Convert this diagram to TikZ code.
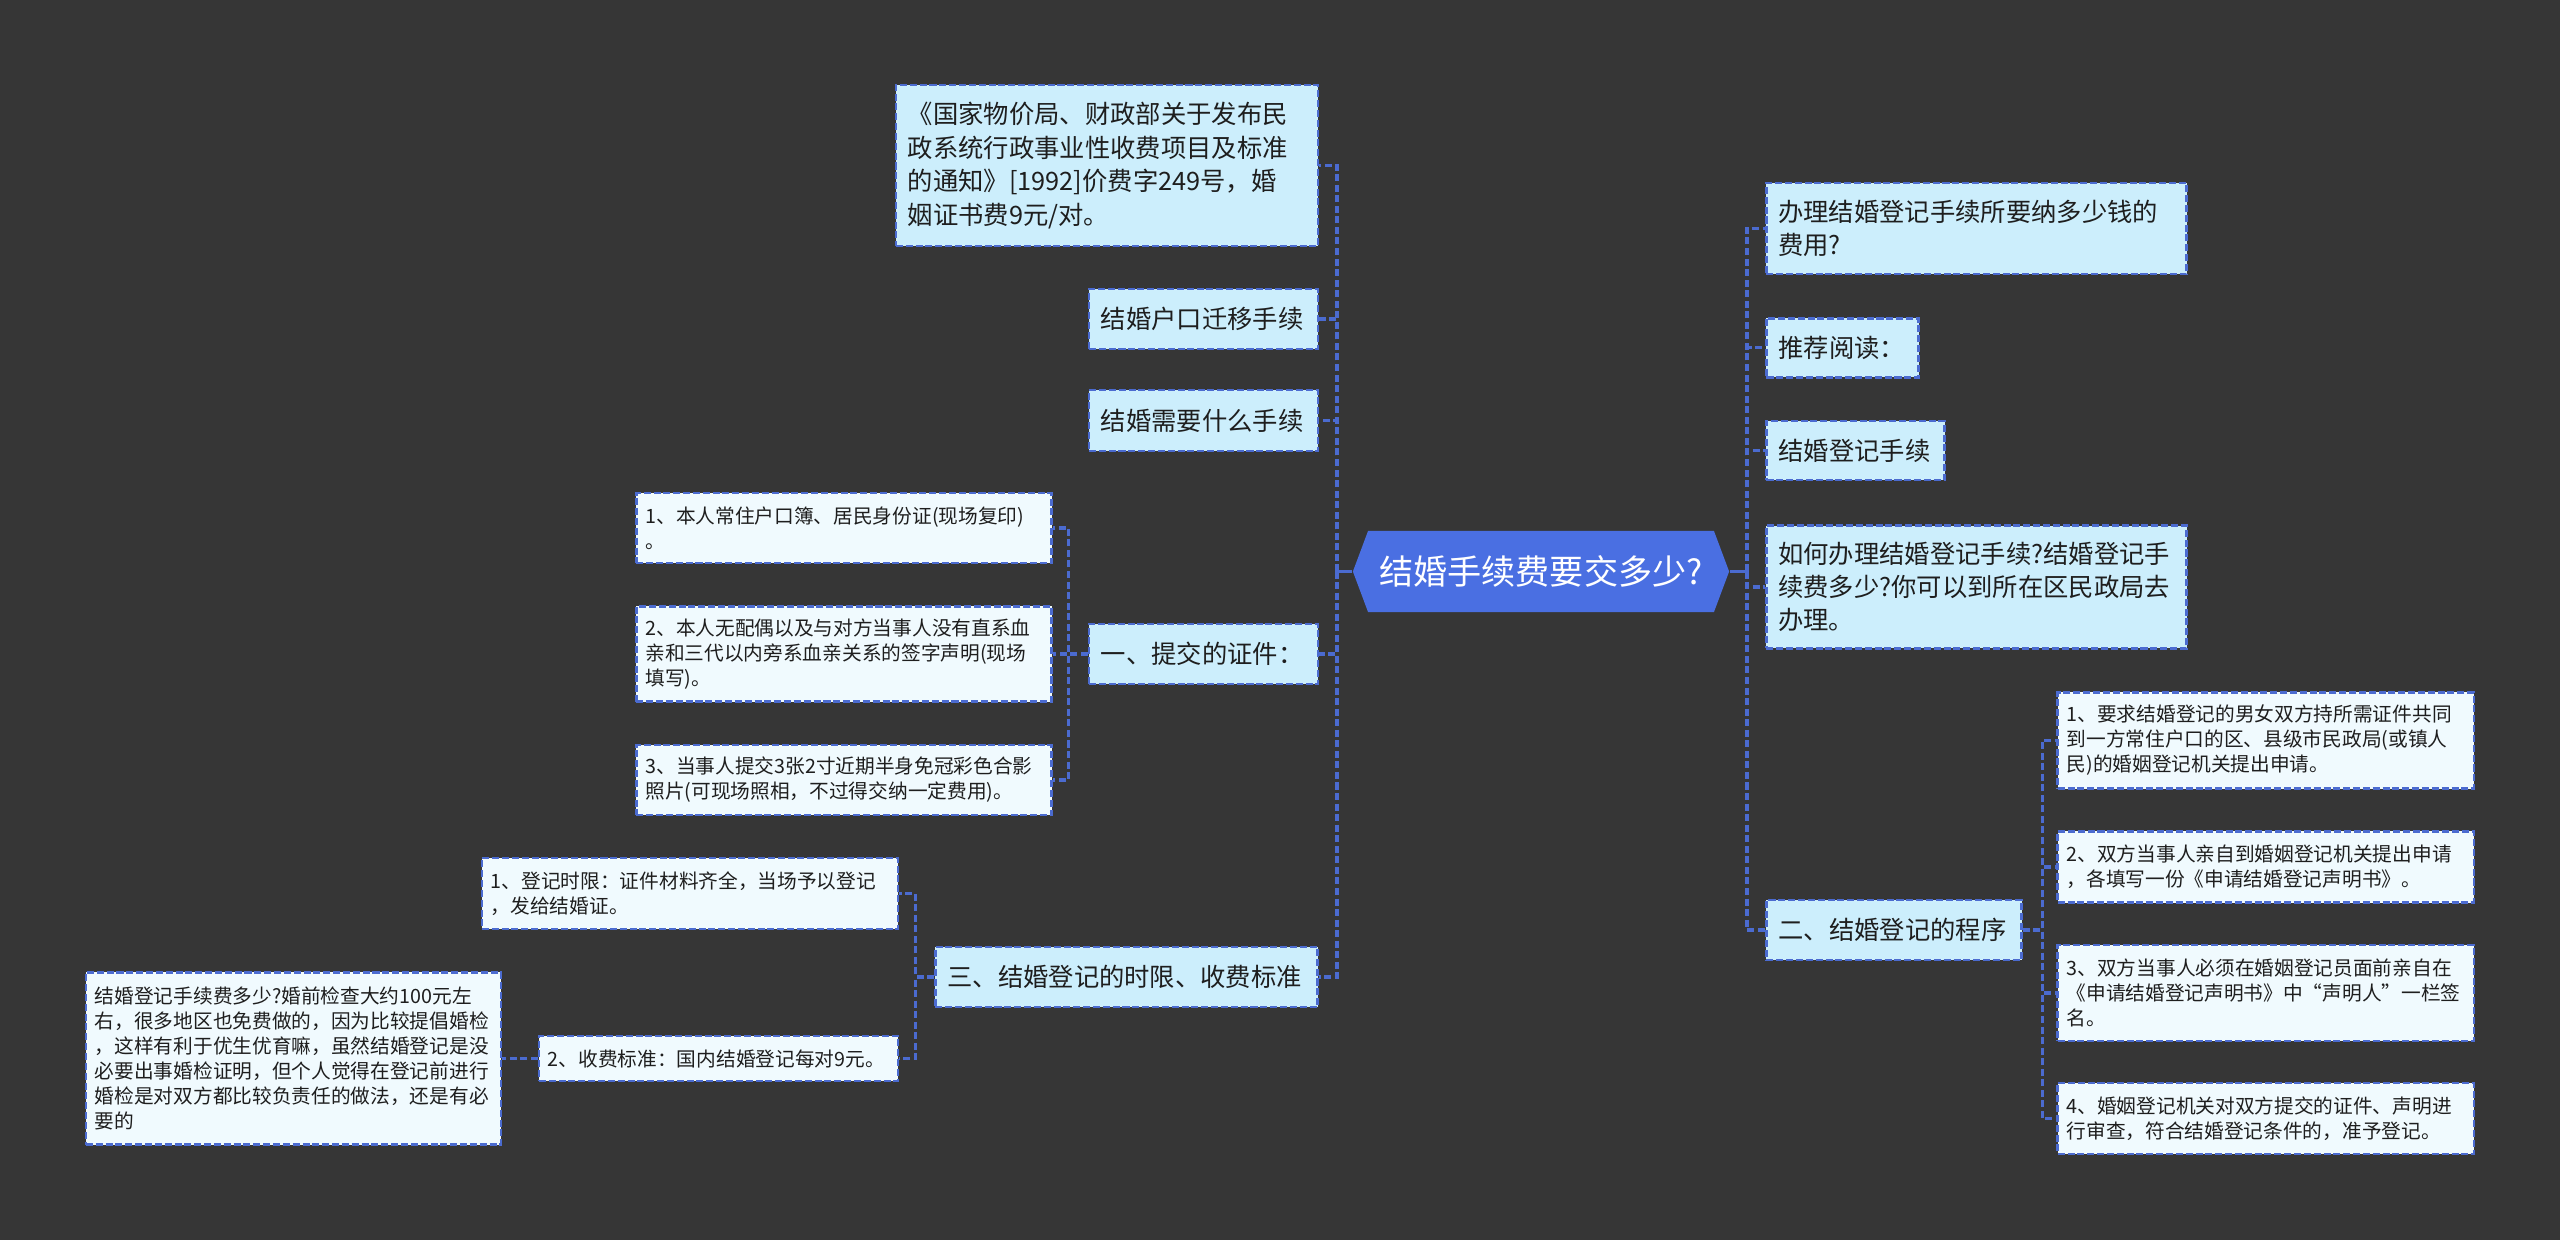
\documentclass[tikz,border=0pt]{standalone}
\usepackage{fontspec}
\setmainfont{Noto Sans CJK SC}
\usetikzlibrary{shapes.symbols}
\definecolor{canvas}{HTML}{363636}
\definecolor{ink}{HTML}{1E1E1E}
\definecolor{rootfill}{HTML}{4A6FE2}
\definecolor{onefill}{HTML}{CCEEFC}
\definecolor{twofill}{HTML}{F0FAFE}
\definecolor{edge}{HTML}{4B6BD0}
\newcommand{\rootsize}{\fontsize{9.7}{11.5}\selectfont}
\newcommand{\onesize}{\fontsize{7.2}{9.5}\selectfont}
\newcommand{\twosize}{\fontsize{5.6}{7.1}\selectfont}
\tikzset{
 every node/.append style={text=ink},
 box/.style={draw=edge,line width=.7pt,dash pattern=on 2pt off .8pt,align=left},
 lvone/.style={box,fill=onefill,font=\onesize,inner xsep=.12cm,inner ysep=0pt},
 lvtwo/.style={box,fill=twofill,font=\twosize,inner xsep=.09cm,inner ysep=0pt},
 root/.style={signal,signal to=west and east,signal pointer angle=139,fill=rootfill,text=white,font=\rootsize,inner xsep=0pt,minimum width=3.76cm,minimum height=.81cm},
 link/.style={draw=edge,line width=.95pt,dash pattern=on 2pt off 1pt},
 stem/.style={draw=edge,line width=1pt},
}

\begin{document}
\begin{tikzpicture}[x=.01cm,y=-.01cm]

\useasboundingbox (0,0) rectangle (2560,1240);
\fill[canvas] (0,0) rectangle (2560,1240);
\node[root] (root) at (1541,571.5) {结婚手续费要交多少?};
\coordinate (lt) at (1337,571.5);
\coordinate (rt) at (1747,571.5);
\node[lvone,text width=3.98cm,minimum height=1.61cm] (l1) at (1107,165.5) {《国家物价局、财政部关于发布民\\政系统行政事业性收费项目及标准\\的通知》[1992]价费字249号，婚\\姻证书费9元/对。};
\node[lvone,text width=2.05cm,minimum height=.60cm] (l2) at (1203.5,319) {结婚户口迁移手续};
\node[lvone,text width=2.05cm,minimum height=.61cm] (l3) at (1203.5,420.5) {结婚需要什么手续};
\node[lvone,text width=2.05cm,minimum height=.60cm] (l4) at (1203.5,654) {一、提交的证件：};
\node[lvone,text width=3.58cm,minimum height=.60cm] (l5) at (1126.5,977) {三、结婚登记的时限、收费标准};
\node[lvtwo,text width=3.97cm,minimum height=.70cm] (c41) at (844,528) {1、本人常住户口簿、居民身份证(现场复印)\\。};
\node[lvtwo,text width=3.97cm,minimum height=.95cm] (c42) at (844,654) {2、本人无配偶以及与对方当事人没有直系血\\亲和三代以内旁系血亲关系的签字声明(现场\\填写)。};
\node[lvtwo,text width=3.97cm,minimum height=.70cm] (c43) at (844,780) {3、当事人提交3张2寸近期半身免冠彩色合影\\照片(可现场照相，不过得交纳一定费用)。};
\node[lvtwo,text width=3.98cm,minimum height=.71cm] (c51) at (690,893.5) {1、登记时限：证件材料齐全，当场予以登记\\，发给结婚证。};
\node[lvtwo,text width=3.41cm,minimum height=.45cm] (c52) at (718.5,1058.5) {2、收费标准：国内结婚登记每对9元。};
\node[lvtwo,text width=3.97cm,minimum height=1.72cm] (c521) at (293.5,1058.5) {结婚登记手续费多少?婚前检查大约100元左\\右，很多地区也免费做的，因为比较提倡婚检\\，这样有利于优生优育嘛，虽然结婚登记是没\\必要出事婚检证明，但个人觉得在登记前进行\\婚检是对双方都比较负责任的做法，还是有必\\要的};
\node[lvone,text width=3.96cm,minimum height=.91cm] (r1) at (1976.4,228.6) {办理结婚登记手续所要纳多少钱的\\费用?};
\node[lvone,text width=1.28cm,minimum height=.59cm] (r2) at (1842.5,347.8) {推荐阅读：};
\node[lvone,text width=1.54cm,minimum height=.59cm] (r3) at (1855.5,450.6) {结婚登记手续};
\node[lvone,text width=3.96cm,minimum height=1.225cm] (r4) at (1976.4,587) {如何办理结婚登记手续?结婚登记手\\续费多少?你可以到所在区民政局去\\办理。};
\node[lvone,text width=2.31cm,minimum height=.60cm] (r5) at (1894,930) {二、结婚登记的程序};
\node[lvtwo,text width=3.98cm,minimum height=.96cm] (d1) at (2265.75,740.5) {1、要求结婚登记的男女双方持所需证件共同\\到一方常住户口的区、县级市民政局(或镇人\\民)的婚姻登记机关提出申请。};
\node[lvtwo,text width=3.98cm,minimum height=.71cm] (d2) at (2265.75,867) {2、双方当事人亲自到婚姻登记机关提出申请\\，各填写一份《申请结婚登记声明书》。};
\node[lvtwo,text width=3.98cm,minimum height=.96cm] (d3) at (2265.75,993) {3、双方当事人必须在婚姻登记员面前亲自在\\《申请结婚登记声明书》中“声明人”一栏签\\名。};
\node[lvtwo,text width=3.98cm,minimum height=.71cm] (d4) at (2265.75,1118.5) {4、婚姻登记机关对双方提交的证件、声明进\\行审查，符合结婚登记条件的，准予登记。};
\draw[stem] (root.west) -- (lt); \draw[stem] (root.east) -- (rt);
\draw[link] (lt) |- (l1.east); \draw[link] (lt) |- (l2.east); \draw[link] (lt) |- (l3.east); \draw[link] (lt) |- (l4.east); \draw[link] (lt) |- (l5.east);
\draw[link] (rt) |- (r1.west); \draw[link] (rt) |- (r2.west); \draw[link] (rt) |- (r3.west); \draw[link] (rt) |- (r4.west); \draw[link] (rt) |- (r5.west);
\draw[link] (l4.west) -- ++(-19,0) |- (c41.east); \draw[link] (l4.west) -- ++(-19,0) |- (c42.east); \draw[link] (l4.west) -- ++(-19,0) |- (c43.east);
\draw[link] (l5.west) -- ++(-18.5,0) |- (c51.east); \draw[link] (l5.west) -- ++(-18.5,0) |- (c52.east);
\draw[link] (c52.west) -- (c521.east);
\draw[link] (r5.east) -- ++(19.5,0) |- (d1.west); \draw[link] (r5.east) -- ++(19.5,0) |- (d2.west); \draw[link] (r5.east) -- ++(19.5,0) |- (d3.west); \draw[link] (r5.east) -- ++(19.5,0) |- (d4.west);

\end{tikzpicture}
\end{document}
